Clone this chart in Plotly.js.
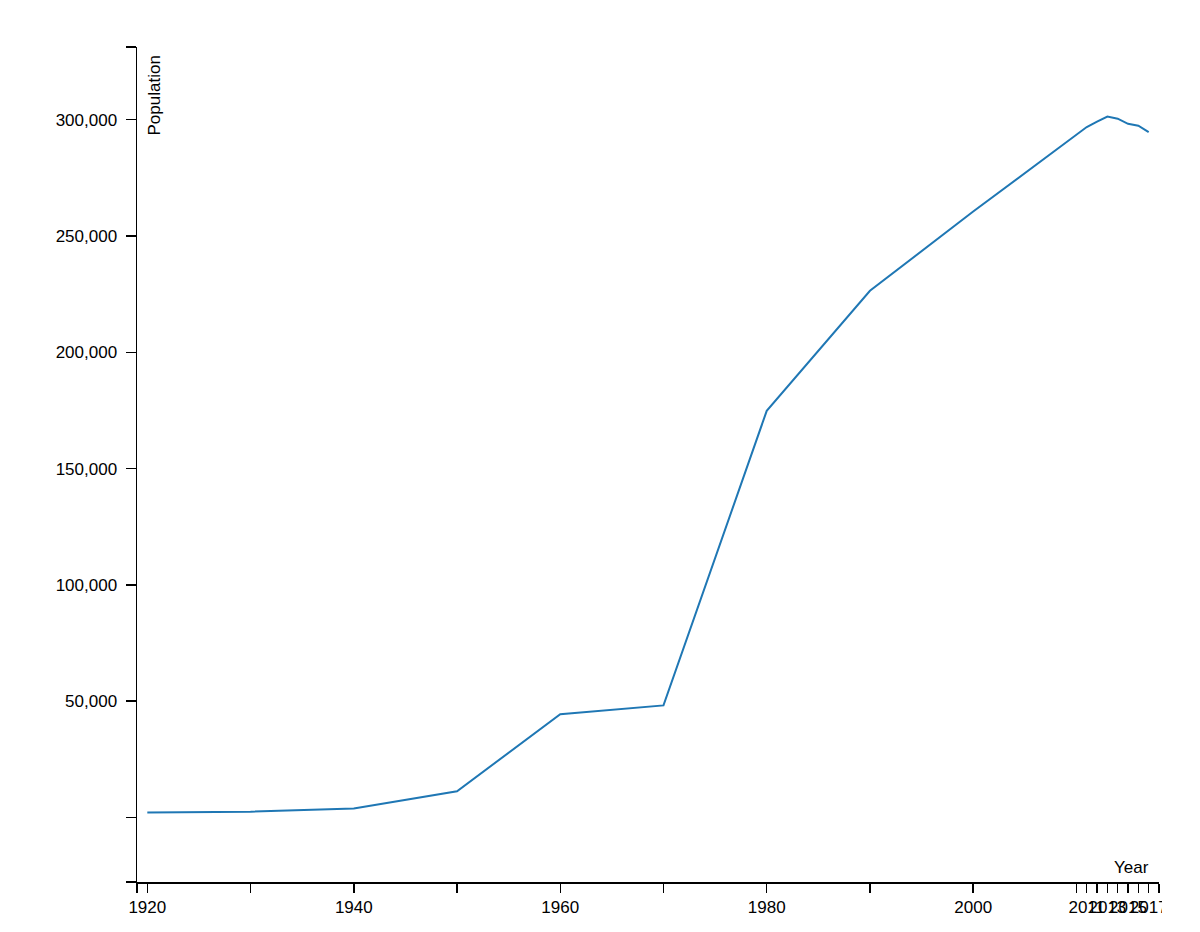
<!DOCTYPE html>
<html>
<head>
<meta charset="utf-8">
<script src="https://cdn.plot.ly/plotly-3.0.1.min.js"></script>
<style>
  html, body { margin: 0; padding: 0; background: #fff; }
  #chart { width: 1162px; height: 932px; overflow: hidden; }
</style>
</head>
<body>
<div id="chart"></div>
<script>
const years = [1920, 1930, 1940, 1950, 1960, 1970, 1980, 1990, 2000, 2010, 2011, 2012, 2013, 2014, 2015, 2016, 2017];
const population = [2200, 2500, 3900, 11300, 44400, 48200, 174800, 226400, 260500, 293800, 296800, 299100, 301300, 300400, 298200, 297400, 294600];
const yTickValues = [0, 50000, 100000, 150000, 200000, 250000, 300000];

const minV = Math.min(...population), maxV = Math.max(...population);
const span = maxV - minV;
const yRange = [minV - 0.1 * span, maxV + 0.1 * span];
const xRange = [years[0] - 1, years[years.length - 1] + 1];

const xTickVals = [xRange[0]].concat(years, [xRange[1]]);
const xTickText = [''].concat(years.map((y, i) => (i % 2 === 0 ? String(y) : '')), ['']);
const yTickVals = [yRange[0]].concat(yTickValues, [yRange[1]]);
const yTickText = [''].concat(yTickValues.map(v => (v === 0 ? '' : v.toLocaleString('en-US'))), ['']);

const font = { family: 'Liberation Sans, Arial, Helvetica, sans-serif', size: 17, color: '#000' };

const trace = {
  x: years,
  y: population,
  type: 'scatter',
  mode: 'lines',
  line: { color: '#1f77b4', width: 2 },
  hoverinfo: 'x+y'
};

const layout = {
  width: 1162,
  height: 932,
  margin: { l: 137, r: 3, t: 47, b: 50 },
  paper_bgcolor: '#fff',
  plot_bgcolor: '#fff',
  font: font,
  showlegend: false,
  xaxis: {
    type: 'linear',
    range: xRange,
    tickmode: 'array',
    tickvals: xTickVals,
    ticktext: xTickText,
    tickangle: 0,
    ticks: 'outside',
    ticklen: 9,
    tickwidth: 1.5,
    tickcolor: '#000',
    showline: true,
    linecolor: '#000',
    linewidth: 1.5,
    showgrid: false,
    zeroline: false,
    tickfont: font,
    ticklabelstandoff: 0,
    ticklabeloverflow: 'allow'
  },
  yaxis: {
    range: yRange,
    tickmode: 'array',
    tickvals: yTickVals,
    ticktext: yTickText,
    ticks: 'outside',
    ticklen: 10,
    tickwidth: 1.5,
    tickcolor: '#000',
    showline: true,
    linecolor: '#000',
    linewidth: 1.5,
    showgrid: false,
    zeroline: false,
    tickfont: font,
    ticklabelstandoff: 5
  },
  annotations: [
    {
      text: 'Year', xref: 'paper', yref: 'paper', x: 1, y: 0,
      xanchor: 'right', yanchor: 'bottom', xshift: -8, yshift: 3,
      showarrow: false, font: font
    },
    {
      text: 'Population', xref: 'paper', yref: 'paper', x: 0, y: 1,
      xanchor: 'left', yanchor: 'top', xshift: 5, yshift: -7,
      textangle: -90, showarrow: false, font: font
    }
  ]
};

Plotly.newPlot('chart', [trace], layout, { displayModeBar: false, staticPlot: true });
</script>
</body>
</html>
